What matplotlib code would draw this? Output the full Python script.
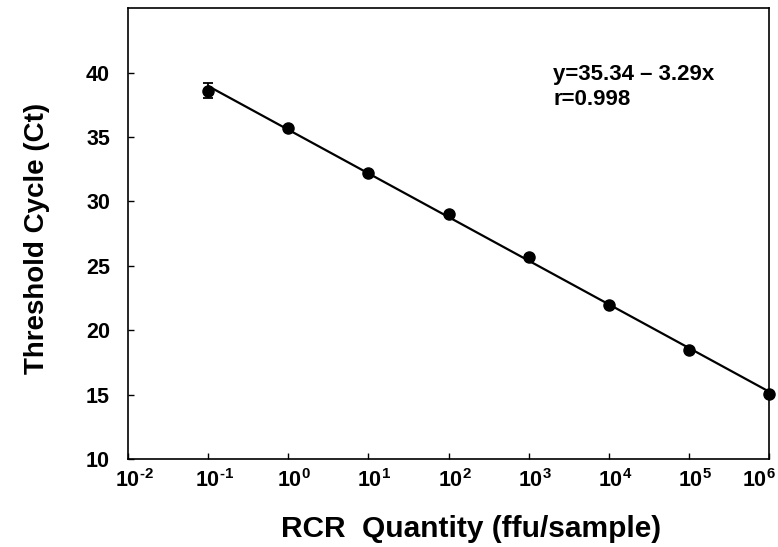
import numpy as np
import matplotlib.pyplot as plt
from matplotlib.ticker import FixedLocator, FuncFormatter
from matplotlib.transforms import ScaledTranslation

plt.rcParams['font.family'] = ['Liberation Sans', 'DejaVu Sans']
plt.rcParams['font.weight'] = 'bold'
plt.rcParams['mathtext.fontset'] = 'custom'
plt.rcParams['mathtext.rm'] = 'Liberation Sans:bold'
plt.rcParams['mathtext.bf'] = 'Liberation Sans:bold'
plt.rcParams['mathtext.it'] = 'Liberation Sans:bold'

# RCR quantity (ffu/sample) and threshold cycle
quantity = [1e-1, 1e0, 1e1, 1e2, 1e3, 1e4, 1e5, 1e6]
ct = [38.6, 35.7, 32.2, 29.0, 25.7, 22.0, 18.5, 15.1]
ct_err = [0.6, 0.15, 0.1, 0.1, 0.15, 0.1, 0.1, 0.1]

x_ticks = [1e-2, 1e-1, 1e0, 1e1, 1e2, 1e3, 1e4, 1e5, 1e6]
y_ticks = [10, 15, 20, 25, 30, 35, 40]

eq_line1 = 'y=35.34 – 3.29x'
eq_line2 = 'r=0.998'


def dec_fmt(v, pos):
    e = int(round(np.log10(v)))
    return r'$10^{\text{%d}}$' % e


fig = plt.figure(figsize=(7.78, 5.47), dpi=100)
ax = fig.add_axes([0.1645, 0.1603, 0.824, 0.825])

# regression line over the measured range
logq = np.log10(quantity)
slope, icpt = np.polyfit(logq, ct, 1)
xl = np.array([logq[0], logq[-1]])
ax.plot(10 ** xl, icpt + slope * xl, color='black', lw=1.6, zorder=2)

ax.errorbar(quantity, ct, yerr=ct_err, fmt='o', color='black', ms=8,
            capsize=3.5, elinewidth=1.3, capthick=1.3, zorder=3, clip_on=False)

ax.set_xscale('log')
ax.set_xlim(1e-2, 1e6)
ax.set_ylim(10, 45)
ax.xaxis.set_major_locator(FixedLocator(x_ticks))
ax.xaxis.set_minor_locator(FixedLocator([]))
ax.xaxis.set_major_formatter(FuncFormatter(dec_fmt))
ax.set_yticks(y_ticks)

ax.tick_params(axis='both', direction='in', length=4, width=1, labelsize=15.5)
ax.tick_params(axis='x', pad=7)
ax.tick_params(axis='y', pad=13)
for s in ax.spines.values():
    s.set_linewidth(1.2)

# keep the "10" centred on its tick, last label pulled inside
fig.canvas.draw()
xlabels = ax.get_xticklabels()
for lab in xlabels[:-1]:
    lab.set_transform(lab.get_transform() + ScaledTranslation(6 / 100, 0, fig.dpi_scale_trans))
xlabels[-1].set_ha('right')
xlabels[-1].set_transform(xlabels[-1].get_transform() + ScaledTranslation(7 / 100, 0, fig.dpi_scale_trans))

ax.set_xlabel('RCR  Quantity (ffu/sample)', fontsize=21.5, fontweight='bold')
ax.xaxis.set_label_coords(0.535, -0.124)
ax.set_ylabel('Threshold Cycle (Ct)', fontsize=20, fontweight='bold')
ax.yaxis.set_label_coords(-0.122, 0.49)

ax.text(0.663, 0.840, eq_line1, transform=ax.transAxes, fontsize=16,
        fontweight='bold', va='baseline', ha='left')
ax.text(0.663, 0.786, eq_line2, transform=ax.transAxes, fontsize=16,
        fontweight='bold', va='baseline', ha='left')

fig.savefig('out.png', dpi=100)
